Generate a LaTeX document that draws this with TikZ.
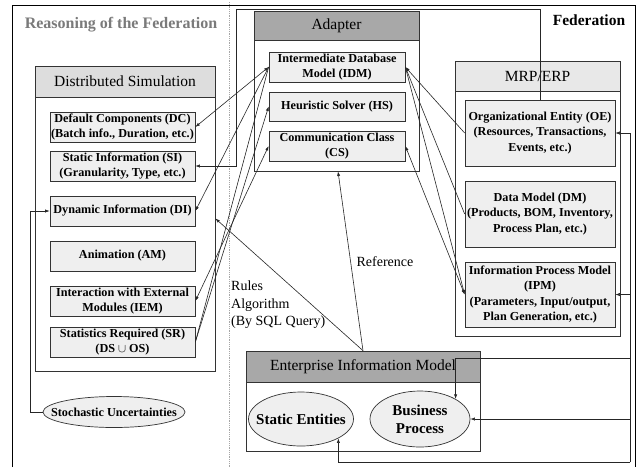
\documentclass[tikz,border=0pt]{standalone}
\usepackage{fontspec}
\setmainfont{Liberation Serif}
\usetikzlibrary{arrows.meta,shapes.geometric}
\definecolor{boxfill}{HTML}{EFEFEF}
\definecolor{lighthead}{HTML}{DDDDDD}
\definecolor{palehead}{HTML}{E8E8E8}
\definecolor{darkhead}{HTML}{A8A8A8}
\definecolor{titlegray}{HTML}{7A7A7A}
\begin{document}
\begin{tikzpicture}[x=1pt,y=-1pt,
  panel/.style={draw=black!80, line width=0.8pt, fill=white, inner sep=0pt},
  item/.style={draw=black!80, line width=0.7pt, fill=boxfill, inner sep=0pt, align=center,
    minimum width=145pt, font=\fontsize{12.2}{15.5}\selectfont\bfseries},
  head/.style={draw=black!80, line width=0.7pt, inner sep=0pt, font=\fontsize{15.5}{18}\selectfont},
  oval/.style={ellipse, draw=black!80, line width=0.7pt, fill=boxfill, inner sep=0pt},
  ovaltext/.style={inner sep=0pt, align=center},
  link/.style={draw=black!85, line width=0.6pt},
  tip/.style={link, -{Latex[length=4.5pt,width=3.2pt]}},
  both/.style={link, {Latex[length=4.5pt,width=3.2pt]}-{Latex[length=4.5pt,width=3.2pt]}},
  lbl/.style={inner sep=0pt, font=\fontsize{14}{17.5}\selectfont, align=left},
]
% canvas
\fill[white] (0,0) rectangle (642,467);
\useasboundingbox (0,0) rectangle (642,467);

% federation frame and divider
\draw[line width=0.8pt] (12,467) -- (12,5) -- (635,5) -- (635,467);
\draw[black!35, line width=0.8pt, densely dotted] (229,2) -- (229,467);

\node[inner sep=0pt, text=titlegray, font=\fontsize{16}{18}\selectfont\bfseries] (reason) at (121,25) {Reasoning of the Federation};
\node[inner sep=0pt, font=\fontsize{15.5}{18}\selectfont\bfseries] (fed) at (589,20) {Federation};

% Distributed Simulation
\node[panel, minimum width=180pt, minimum height=305pt] (ds) at (125,218.5) {};
\node[head, fill=lighthead, minimum width=180pt, minimum height=31pt] (dsh) at (125,81.5) {Distributed Simulation};
\node[item, minimum height=30pt] (dc) at (122.5,127) {Default Components (DC)\\(Batch info., Duration, etc.)};
\node[item, minimum height=30pt] (si) at (122.5,166) {Static Information (SI)\\(Granularity, Type, etc.)};
\node[item, minimum height=30pt] (di) at (122.5,211) {Dynamic Information (DI)};
\node[item, minimum height=30pt] (am) at (122.5,256) {Animation (AM)};
\node[item, minimum height=30pt] (iem) at (122.5,301) {Interaction with External\\Modules (IEM)};
\node[item, minimum height=30pt] (sr) at (122.5,342) {Statistics Required (SR)\\(DS $\cup$ OS)};

% the ellipses are sized explicitly; their text sits on top
\node[oval, minimum width=142pt, minimum height=31pt] (su) at (114,412) {};
\node[ovaltext, font=\fontsize{12.2}{15}\selectfont\bfseries] (sutext) at (su.center) {Stochastic Uncertainties};

% Adapter
\node[panel, minimum width=165pt, minimum height=160pt] (adapter) at (336.5,91) {};
\node[head, fill=darkhead, minimum width=165pt, minimum height=29pt] (adh) at (336.5,25.5) {Adapter};
\node[item, minimum width=136pt, minimum height=30pt] (idm) at (337,67) {Intermediate Database\\Model (IDM)};
\node[item, minimum width=136pt, minimum height=29pt] (hs) at (337,106.5) {Heuristic Solver (HS)};
\node[item, minimum width=136pt, minimum height=30pt] (cs) at (337,146) {Communication Class\\(CS)};

% MRP/ERP
\node[panel, minimum width=165pt, minimum height=275pt] (mrp) at (537.5,198.5) {};
\node[head, fill=palehead, minimum width=165pt, minimum height=30pt] (mrph) at (537.5,76) {MRP/ERP};
\node[item, minimum width=150pt, minimum height=66pt] (oe) at (540,133) {Organizational Entity (OE)\\(Resources, Transactions,\\Events, etc.)};
\node[item, minimum width=150pt, minimum height=66pt] (dm) at (540,214) {Data Model (DM)\\(Products, BOM, Inventory,\\Process Plan, etc.)};
\node[item, minimum width=150pt, minimum height=65pt] (ipm) at (540,294.5) {Information Process Model\\(IPM)\\(Parameters, Input/output,\\Plan Generation, etc.)};

% Enterprise Information Model
\node[panel, minimum width=234pt, minimum height=100pt] (eim) at (363,401) {};
\node[head, fill=darkhead, minimum width=234pt, minimum height=31pt] (eimh) at (363,366.5) {Enterprise Information Model};
\node[oval, minimum width=105pt, minimum height=54pt] (se) at (301,419) {};
\node[ovaltext, font=\fontsize{15}{18}\selectfont\bfseries] (setext) at (se.center) {Static Entities};
\node[oval, minimum width=100pt, minimum height=56pt] (bp) at (420,419) {};
\node[ovaltext, font=\fontsize{15}{18}\selectfont\bfseries] (bptext) at (bp.center) {Business\\Process};

% connector waypoints
\coordinate (oeup) at (236,9);
\coordinate (suleft) at (30,412);
\coordinate (busbot) at (630,462);
\coordinate (bpin) at (630,358);

% organizational entity feeds the static information
\draw[tip] (oe.north) |- (oeup) |- (si.east);
% stochastic uncertainties feed the dynamic information
\draw[tip] (su.west) -- (suleft) |- (di.west);

% adapter to simulation
\draw[both] (idm.west) -- (dc.east);
\draw[tip] (idm.west) -- (di.east);
\draw[link] (sr.east) -- (idm.west);
\draw[both] (cs.west) -- (iem.east);
\draw[tip] (sr.east) -- (hs.west);

% adapter to MRP/ERP
\draw[tip] (oe.west) -- (idm.east);
\draw[link] (idm.east) -- (dm.west);
\draw[tip] (idm.east) -- (ipm.west);
\draw[both] (cs.east) -- (ipm.west);

% enterprise information model links
\draw[tip] (eimh.north) -- ([xshift=1.5pt]adapter.south);
\draw[tip] (eimh.north) -- (ds.east);
\node[lbl] (ref) at (385,262) {Reference};
\node[lbl, anchor=west] (rules) at (231,305) {Rules\\Algorithm\\(By SQL Query)};

% feedback bus on the right
\draw[tip] (busbot) |- (oe.east);
\draw[tip] (ipm.east -| busbot) -- (ipm.east);
\draw[tip] (bpin) -| (bp.north east);
\draw[tip] (bp.east -| busbot) -- (bp.east);
\draw[tip] (busbot) -| (se.south east);
\end{tikzpicture}
\end{document}
